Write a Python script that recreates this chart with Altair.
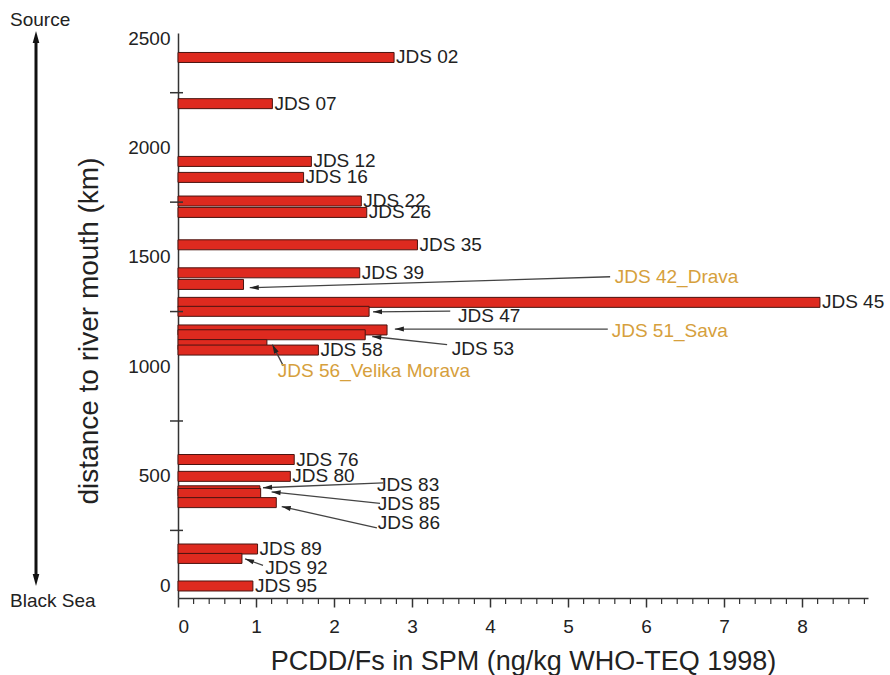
import math
import altair as alt
import pandas as pd

# Sampling stations along the Danube (upstream -> Black Sea)
stations = ["JDS 02", "JDS 07", "JDS 12", "JDS 16", "JDS 22", "JDS 26", "JDS 35", "JDS 39",
            "JDS 42_Drava", "JDS 45", "JDS 47", "JDS 51_Sava", "JDS 53", "JDS 56_Velika Morava",
            "JDS 58", "JDS 76", "JDS 80", "JDS 83", "JDS 85", "JDS 86", "JDS 89", "JDS 92", "JDS 95"]
river_km = [2411, 2200, 1936, 1863, 1755, 1703, 1555, 1427,
            1374, 1292, 1251, 1166, 1144, 1099,
            1074, 574, 497, 431, 419, 377, 165, 122, -4]
teq = [2.77, 1.21, 1.71, 1.61, 2.35, 2.42, 3.07, 2.33,
       0.84, 8.23, 2.45, 2.68, 2.40, 1.14,
       1.80, 1.49, 1.44, 1.05, 1.06, 1.26, 1.02, 0.82, 0.96]

# Stations whose names are set off with a leader arrow
callout_station = ["JDS 42_Drava", "JDS 47", "JDS 51_Sava", "JDS 53", "JDS 56_Velika Morava",
                   "JDS 83", "JDS 85", "JDS 86", "JDS 92"]
callout_label_x = [5.60, 3.59, 5.56, 3.51, 1.28, 2.55, 2.56, 2.56, 1.12]
callout_label_km = [1409, 1229, 1162, 1077, 978, 458, 372, 283, 78]
callout_start_x = [5.54, 3.49, 5.51, 3.45, 1.35, 2.63, 2.59, 2.55, 1.09]
callout_start_km = [1409, 1252, 1170, 1099, 1002, 467, 374, 262, 90]
callout_tip_x = [0.92, 2.50, 2.78, 2.49, 1.21, 1.09, 1.20, 1.33, 0.86]
callout_tip_km = [1359, 1249, 1170, 1136, 1099, 445, 426, 359, 120]

x_ticks = list(range(9))
y_ticks = [0, 500, 1000, 1500, 2000, 2500]
y_mid_ticks = [250, 750, 1250, 1750, 2250]
x_minor_ticks = [i / 5 for i in range(45) if i % 5 != 0]

FONT = "Liberation Sans"
BAR_FILL = "#DE2A1F"
BAR_EDGE = "#4a1410"
INK = "#222222"
AXIS = "#333333"
ORANGE = "#D6A03C"

W, H = 690, 565
X_MAX = 8.846
Y_MIN, Y_MAX = -36, 2500
px_per_x = W / X_MAX
px_per_km = H / (Y_MAX - Y_MIN)

x_scale = alt.Scale(domain=[0, X_MAX], nice=False, zero=True)
y_scale = alt.Scale(domain=[Y_MIN, Y_MAX], nice=False, zero=False)
X_TITLE = "PCDD/Fs in SPM (ng/kg WHO-TEQ 1998)"
Y_TITLE = "distance to river mouth (km)"

bars = pd.DataFrame({"station": stations, "km": river_km, "teq": teq})
bars["order"] = range(len(bars))
direct = bars[~bars["station"].isin(callout_station)]

angles = []
for sx, sk, tx, tk in zip(callout_start_x, callout_start_km, callout_tip_x, callout_tip_km):
    dx = (tx - sx) * px_per_x
    dy = -(tk - sk) * px_per_km
    angles.append(math.degrees(math.atan2(dx, -dy)) % 360)

callouts = pd.DataFrame({
    "station": callout_station,
    "lx": callout_label_x, "lkm": callout_label_km,
    "sx": callout_start_x, "skm": callout_start_km,
    "tx": callout_tip_x, "tkm": callout_tip_km,
    "angle": angles,
})
callouts["kind"] = ["trib" if "_" in s else "main" for s in callout_station]

ARROW = "M0,0 L0.5,1.8 L-0.5,1.8 Z"


def xq(field):
    return alt.X(field, scale=x_scale, title=X_TITLE)


def yq(field):
    return alt.Y(field, scale=y_scale, title=Y_TITLE)


bar_layer = alt.Chart(bars).mark_bar(
    orient="horizontal", size=10, color=BAR_FILL, stroke=BAR_EDGE, strokeWidth=1
).encode(
    x=alt.X("teq:Q", scale=x_scale, stack=None, title=X_TITLE,
            axis=alt.Axis(values=x_ticks, format="d", tickSize=9, tickWidth=1.5,
                          labelFontSize=19, labelPadding=10,
                          titleFontSize=27, titlePadding=12)),
    y=alt.Y("km:Q", scale=y_scale, title=Y_TITLE,
            axis=alt.Axis(values=y_ticks, format="d", ticks=False,
                          labelFontSize=19, labelPadding=8,
                          titleFontSize=28, titlePadding=24,
                          titleAnchor="middle", titleY=H / 2 + 15)),
    order=alt.Order("order:Q"),
)

label_layer = alt.Chart(direct).mark_text(
    align="left", baseline="middle", dx=2, fontSize=19, font=FONT, color=INK
).encode(
    x=xq("teq:Q"),
    y=yq("km:Q"),
    text="station:N",
)

leader_layer = alt.Chart(callouts).mark_rule(color="#444444", strokeWidth=1.3).encode(
    x=xq("sx:Q"),
    y=yq("skm:Q"),
    x2="tx:Q",
    y2="tkm:Q",
)

head_layer = alt.Chart(callouts).mark_point(
    shape=ARROW, filled=True, size=100, color="#222222", opacity=1
).encode(
    x=xq("tx:Q"),
    y=yq("tkm:Q"),
    angle=alt.Angle("angle:Q", scale=None),
)

callout_text = alt.Chart(callouts).mark_text(
    align="left", baseline="middle", fontSize=19, font=FONT
).encode(
    x=xq("lx:Q"),
    y=yq("lkm:Q"),
    text="station:N",
    color=alt.Color("kind:N", scale=alt.Scale(domain=["trib", "main"], range=[ORANGE, INK]),
                    legend=None),
)

# short ticks crossing the distance axis halfway between labels
mid_ticks = alt.Chart(pd.DataFrame({"km": y_mid_ticks})).mark_rule(
    color=AXIS, strokeWidth=1.5
).encode(
    y=yq("km:Q"),
    x=alt.value(-8),
    x2=alt.value(5),
)

# minor ticks on the concentration axis
minor_ticks = alt.Chart(pd.DataFrame({"v": x_minor_ticks})).mark_rule(
    color=AXIS, strokeWidth=1.2
).encode(
    x=xq("v:Q"),
    y=alt.value(H),
    y2=alt.value(H + 6),
)

# Source / Black Sea direction arrow beside the axis
ARROW_X = -142
flow_line = alt.Chart(pd.DataFrame({"a": [0]})).mark_rule(color="#111111", strokeWidth=3).encode(
    x=alt.value(ARROW_X), y=alt.value(6), y2=alt.value(546),
)
flow_heads = alt.Chart(pd.DataFrame({"yy": [-2, 553], "ang": [0, 180]})).mark_point(
    shape="M0,0 L0.55,2 L-0.55,2 Z", filled=True, size=144, color="#111111", opacity=1
).encode(
    x=alt.value(ARROW_X),
    y=alt.Y("yy:Q", scale=None, axis=None),
    angle=alt.Angle("ang:Q", scale=None),
)
end_labels = alt.Chart(pd.DataFrame({"t": ["Source", "Black Sea"], "yy": [-13, 568]})).mark_text(
    align="left", baseline="middle", fontSize=19, font=FONT, color=INK
).encode(
    x=alt.value(-168),
    y=alt.Y("yy:Q", scale=None, axis=None),
    text="t:N",
)

chart = alt.layer(
    bar_layer, label_layer, leader_layer, head_layer, callout_text,
    mid_ticks, minor_ticks, flow_line, flow_heads, end_labels,
).properties(
    width=W, height=H,
    autosize=alt.AutoSizeParams(type="none"),
    padding={"left": 178, "top": 33, "right": 22, "bottom": 77},
).configure_view(
    stroke=None
).configure_axis(
    grid=False, domainColor=AXIS, domainWidth=1.5, tickColor=AXIS,
    labelColor=INK, titleColor=INK, labelFont=FONT, titleFont=FONT,
    titleFontWeight="normal",
).configure_text(font=FONT)

chart.save("out.html", embed_options={"renderer": "svg", "actions": False})
